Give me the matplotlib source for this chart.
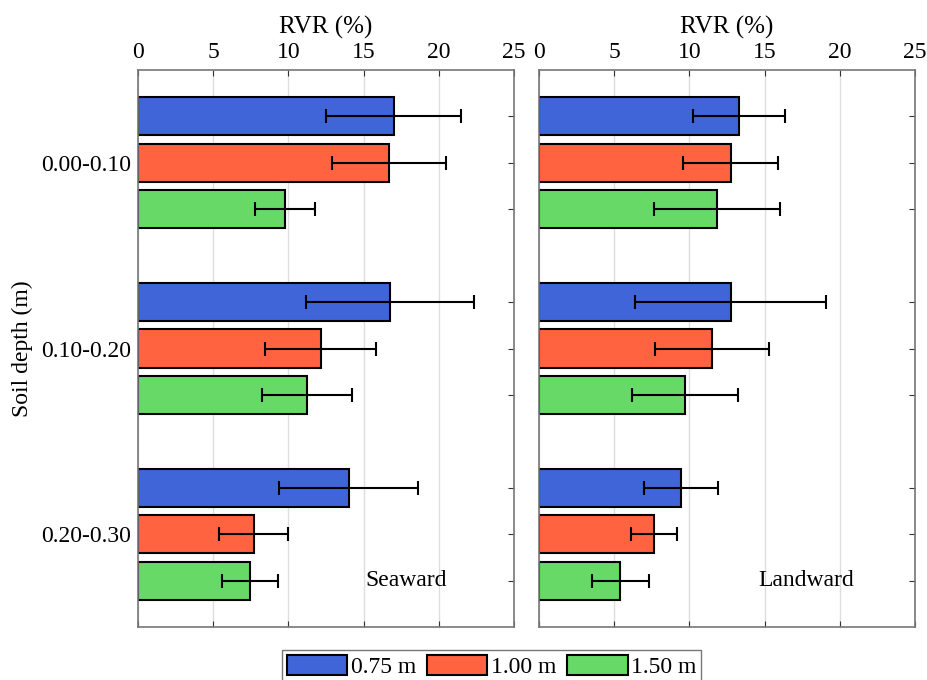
import numpy as np
import matplotlib
matplotlib.use("Agg")
import matplotlib.pyplot as plt
from matplotlib.patches import Patch

plt.rcParams['font.family'] = ['Liberation Serif', 'DejaVu Serif']

depths = ['0.00-0.10', '0.10-0.20', '0.20-0.30']
heights = ['0.75 m', '1.00 m', '1.50 m']
colors = ['#4065d9', '#ff6340', '#66d966']

# RVR (%) mean per depth, one list per planting height
sea_mean = {'0.75 m': [17.0, 16.75, 14.0],
            '1.00 m': [16.7, 12.15, 7.7],
            '1.50 m': [9.8, 11.25, 7.45]}
sea_err = {'0.75 m': [4.5, 5.6, 4.6],
           '1.00 m': [3.8, 3.7, 2.3],
           '1.50 m': [2.0, 3.0, 1.85]}
land_mean = {'0.75 m': [13.3, 12.75, 9.45],
             '1.00 m': [12.75, 11.5, 7.65],
             '1.50 m': [11.85, 9.7, 5.4]}
land_err = {'0.75 m': [3.05, 6.35, 2.45],
            '1.00 m': [3.15, 3.8, 1.55],
            '1.50 m': [4.2, 3.5, 1.9]}

fig = plt.figure(figsize=(9.28, 6.8), dpi=100)
ax1 = fig.add_axes([0.1487, 0.078, 0.4052, 0.819])
ax2 = fig.add_axes([0.5808, 0.078, 0.4052, 0.819])

grp = np.arange(len(depths)) * 4 + 2

def draw(ax, mean, err, label):
    for i, h in enumerate(heights):
        y = grp + (i - 1)
        ax.barh(y, mean[h], height=0.82, color=colors[i], edgecolor='black',
                linewidth=1.5, zorder=2)
        ax.errorbar(mean[h], y, xerr=err[h], fmt='none', ecolor='black',
                    elinewidth=1.5, capsize=5, capthick=1.5, zorder=3)
    ax.set_xlim(0, 25)
    ax.set_ylim(12, 0)
    ax.set_xticks([0, 5, 10, 15, 20, 25])
    ax.xaxis.tick_top()
    ax.xaxis.set_label_position('top')
    ax.set_xlabel('RVR (%)', fontsize=18, labelpad=6)
    ax.set_yticks(np.sort(np.concatenate([grp - 1, grp, grp + 1])))
    ax.set_yticklabels([depths[k // 3] if k % 3 == 1 else '' for k in range(9)])
    ax.tick_params(direction='in', top=True, bottom=True, left=True, right=True,
                   labelsize=17, length=4, color='#333333', pad=5)
    ax.grid(axis='x', color='#dddddd', linewidth=1, zorder=0)
    ax.set_axisbelow(True)
    for s in ax.spines.values():
        s.set_color('#777777')
        s.set_linewidth(1.2)
    ax.text(17.8, 11.0, label, fontsize=17, ha='center', va='center')

draw(ax1, sea_mean, sea_err, 'Seaward')
draw(ax2, land_mean, land_err, 'Landward')
ax2.set_yticklabels([])
ax1.set_ylabel('Soil depth (m)', fontsize=17, labelpad=6)

handles = [Patch(facecolor=c, edgecolor='black', linewidth=1.5) for c in colors]
fig.legend(handles, heights, loc='lower center', bbox_to_anchor=(0.530, -0.008),
           ncol=3, fontsize=17, frameon=True, fancybox=False, edgecolor='#555555',
           handlelength=2.55, handleheight=0.95, handletextpad=0.15,
           columnspacing=0.47, borderpad=0.2, borderaxespad=0.1)

fig.savefig('out.png', dpi=100)
